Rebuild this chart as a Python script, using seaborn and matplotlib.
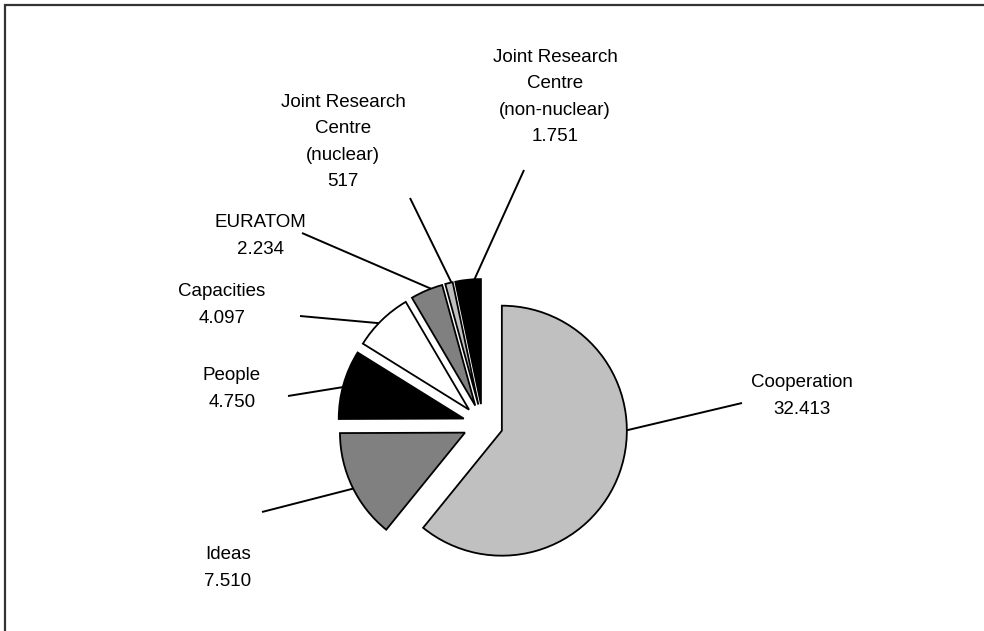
import matplotlib
matplotlib.use("Agg")
import matplotlib.pyplot as plt
import numpy as np
import seaborn as sns
from matplotlib.patches import Rectangle

sns.set_theme(style="white")
plt.rcParams["font.family"] = ["Liberation Sans", "DejaVu Sans"]

# FP7 budget breakdown (million EUR)
categories = ["Cooperation", "Ideas", "People", "Capacities", "EURATOM",
              "Joint Research\nCentre\n(nuclear)", "Joint Research\nCentre\n(non-nuclear)"]
values = [32413, 7510, 4750, 4097, 2234, 517, 1751]
value_labels = ["32.413", "7.510", "4.750", "4.097", "2.234", "517", "1.751"]
colors = ["#C0C0C0", "#808080", "#000000", "#FFFFFF", "#808080", "#C0C0C0", "#000000"]

W, H = 984, 631
fig = plt.figure(figsize=(W / 100, H / 100), dpi=100)
ax = fig.add_axes([0, 0, 1, 1])

def sy(y):
    return H - y

# chart frame (runs off the right and bottom edges)
ax.add_patch(Rectangle((5, sy(5) - 700), 1100, 700, fill=False,
                       edgecolor="#333333", linewidth=1.6, zorder=0))

radius = 125
center = (483, sy(424))
wedges, _ = ax.pie(values, colors=colors, startangle=90, counterclock=False,
                   explode=[20] * len(values), radius=radius, center=center,
                   wedgeprops=dict(edgecolor="black", linewidth=1.3),
                   frame=True)
ax.set_xlim(0, W)
ax.set_ylim(0, H)
ax.set_aspect("equal")
ax.axis("off")

# label block centres, leader start points and where each leader meets its slice
label_pos = [(802, 396), (228, 568), (232, 389), (222, 305), (260, 236),
             (343, 142), (555, 97)]
leader_start = [(742, 403), (262, 512), (288, 396), (300, 316), (302, 233),
                (410, 198), (524, 170)]
attach_frac = [0.41, 0.48, 0.46, 0.43, 0.64, 0.83, 0.75]

for w, cat, val, (lx, ly), (sx_, sy_), f in zip(wedges, categories, value_labels,
                                                 label_pos, leader_start, attach_frac):
    ax.text(lx, sy(ly), f"{cat}\n{val}", ha="center", va="center",
            fontsize=13.5, linespacing=1.72, color="black")
    ang = np.deg2rad(w.theta2 - f * (w.theta2 - w.theta1))
    cx, cy = w.center
    px, py = cx + w.r * np.cos(ang), cy + w.r * np.sin(ang)
    ax.plot([sx_, px], [sy(sy_), py], color="black", linewidth=1.4,
            solid_capstyle="butt")

fig.savefig("out.png", dpi=100, facecolor="white")
